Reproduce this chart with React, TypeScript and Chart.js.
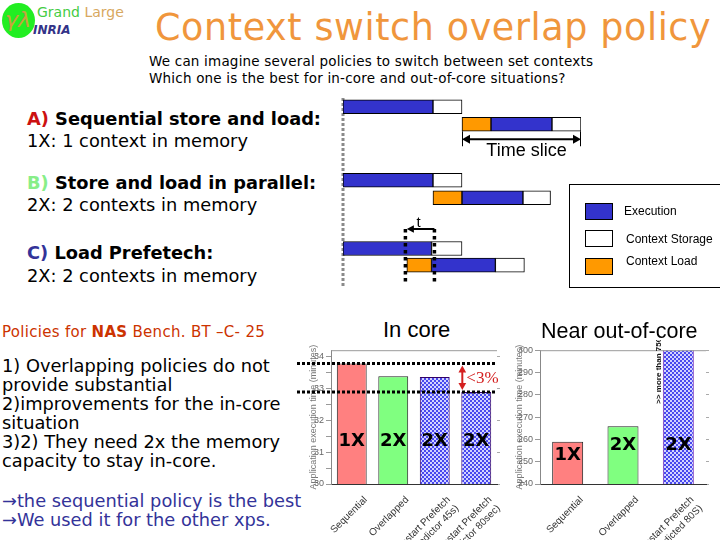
import React, { useEffect, useRef } from 'react';
import { Chart, registerables } from 'chart.js';

Chart.register(...registerables);
Chart.defaults.font.family = '"Liberation Sans", Arial, sans-serif';

// ---------------- Policy timeline diagram ----------------
const rowNames = ['A1', 'A2', 'B1', 'B2', 'C1', 'C2'];
const rowPositions = [0, 1, 4.2, 5.2, 8.1, 9.05];
const executionSpans: number[][] = [[0, 6.2], [10.2, 14.4], [0, 6.2], [8.2, 12.4], [0, 6.1], [6.1, 10.5]];
const storageSpans: number[][] = [[6.2, 8.2], [14.4, 16.4], [6.2, 8.2], [12.4, 14.3], [6.1, 8.2], [10.5, 12.5]];
const loadSpans: (number[] | null)[] = [null, [8.2, 10.2], null, [6.2, 8.2], null, [4.4, 6.1]];
const timeSlice = [8.2, 16.4];
const overlapArrow = [4.4, 6.3];
const overlapWindow = [4.3, 6.3];
const legendLabels = ['Execution', 'Context Storage', 'Context Load'];

// ---------------- In core ----------------
const inCoreLabels = [['Sequential'], ['Overlapped'], ['Restart Prefetch', '(predictor 45s)'], ['Restart Prefetch', '(predictor 80sec)']];
const inCoreValues = [33.78, 33.38, 33.36, 32.89];
const inCoreMemory = ['1X', '2X', '2X', '2X'];
const inCoreMemoryAt = [31.35, 31.35, 31.35, 31.35];
const inCoreRange = [30, 34.2];

// ---------------- Near out-of-core ----------------
const outCoreLabels = [['Sequential'], ['Overlapped'], ['Restart Prefetch', '(predicted 80S)']];
const outCoreValues = [258.9, 265.9, 750];
const outCoreMemory = ['1X', '2X', '2X'];
const outCoreMemoryAt = [252.7, 257.5, 257.5];
const outCoreNoteAt = 276;
const outCoreRange = [240, 300];

const EXEC = '#3333cc';
const LOAD = '#ff9900';

function checker(): CanvasPattern {
  const c = document.createElement('canvas');
  c.width = 4; c.height = 4;
  const g = c.getContext('2d')!;
  g.fillStyle = '#d2d2ff'; g.fillRect(0, 0, 4, 4);
  g.fillStyle = '#4848ee'; g.fillRect(0, 0, 2, 2); g.fillRect(2, 2, 2, 2);
  return g.createPattern(c, 'repeat')!;
}

function arrowHead(ctx: CanvasRenderingContext2D, x: number, y: number, angle: number, size = 7) {
  ctx.save();
  ctx.translate(x, y);
  ctx.rotate(angle);
  ctx.beginPath();
  ctx.moveTo(0, 0);
  ctx.lineTo(-size, -size * 0.55);
  ctx.lineTo(-size, size * 0.55);
  ctx.closePath();
  ctx.fill();
  ctx.restore();
}

const timelinePlugin = {
  id: 'timelineExtras',
  beforeDatasetsDraw(chart: any) {
    const { ctx, scales: { x } } = chart;
    ctx.save();
    ctx.strokeStyle = '#8a8a8a';
    ctx.lineWidth = 3;
    ctx.setLineDash([3, 2]);
    const x0 = x.getPixelForValue(0);
    ctx.beginPath(); ctx.moveTo(x0, 0); ctx.lineTo(x0, chart.height); ctx.stroke();
    ctx.restore();
  },
  afterDatasetsDraw(chart: any) {
    const { ctx, scales: { x, y } } = chart;
    ctx.save();
    ctx.strokeStyle = '#000';
    ctx.fillStyle = '#000';
    // time slice
    const ya = y.getPixelForValue(rowPositions[1]) + 15;
    const xa = x.getPixelForValue(timeSlice[0]);
    const xb = x.getPixelForValue(timeSlice[1]);
    ctx.lineWidth = 2;
    ctx.beginPath(); ctx.moveTo(xa + 5, ya); ctx.lineTo(xb - 5, ya); ctx.stroke();
    arrowHead(ctx, xa, ya, Math.PI, 8);
    arrowHead(ctx, xb, ya, 0, 8);
    ctx.lineWidth = 1;
    ctx.beginPath();
    ctx.moveTo(xa + 0.5, ya - 8); ctx.lineTo(xa + 0.5, ya + 7);
    ctx.moveTo(xb - 0.5, ya - 8); ctx.lineTo(xb - 0.5, ya + 7);
    ctx.stroke();
    ctx.font = '18px "Liberation Sans"';
    ctx.textAlign = 'center';
    ctx.textBaseline = 'alphabetic';
    ctx.fillText('Time slice', (xa + xb) / 2 + 5, ya + 16.5);
    // overlap t
    const yt = y.getPixelForValue(rowPositions[4]) - 19.5;
    const xt0 = x.getPixelForValue(overlapArrow[0]);
    const xt1 = x.getPixelForValue(overlapArrow[1]);
    ctx.lineWidth = 2;
    ctx.beginPath(); ctx.moveTo(xt0 + 5, yt); ctx.lineTo(xt1, yt); ctx.stroke();
    arrowHead(ctx, xt0, yt, Math.PI, 7);
    ctx.font = '15px "Liberation Sans"';
    ctx.fillText('t', (xt0 + xt1) / 2 - 2, yt - 2);
    ctx.lineWidth = 3.5;
    ctx.setLineDash([3.5, 3.5]);
    ctx.beginPath();
    for (const v of overlapWindow) {
      const px = x.getPixelForValue(v);
      ctx.moveTo(px, yt); ctx.lineTo(px, chart.height - 3);
    }
    ctx.stroke();
    ctx.restore();
  },
};

function memoryLabels(chart: any, labels: string[], at: number[]) {
  const { ctx, scales: { y } } = chart;
  const bars = chart.getDatasetMeta(0).data as any[];
  ctx.save();
  ctx.fillStyle = '#000';
  ctx.font = 'bold 18px "DejaVu Sans"';
  ctx.textAlign = 'center';
  ctx.textBaseline = 'middle';
  bars.forEach((b, i) => ctx.fillText(labels[i], b.x, y.getPixelForValue(at[i])));
  ctx.restore();
}

function topFrame(chart: any) {
  const { ctx, chartArea: ca } = chart;
  ctx.save();
  ctx.strokeStyle = '#9a9a9a';
  ctx.lineWidth = 1;
  ctx.beginPath(); ctx.moveTo(ca.left, ca.top + 0.5); ctx.lineTo(ca.right, ca.top + 0.5); ctx.stroke();
  ctx.restore();
}

const inCorePlugin = {
  id: 'inCoreExtras',
  afterDatasetsDraw(chart: any) {
    const { ctx, chartArea: ca, scales: { y } } = chart;
    topFrame(chart);
    memoryLabels(chart, inCoreMemory, inCoreMemoryAt);
    const bars = chart.getDatasetMeta(0).data as any[];
    const yTop = y.getPixelForValue(inCoreValues[0]);
    const yBot = y.getPixelForValue(inCoreValues[3]);
    ctx.save();
    ctx.strokeStyle = '#000';
    ctx.lineWidth = 3;
    ctx.setLineDash([3, 2]);
    ctx.beginPath();
    ctx.moveTo(7, yTop); ctx.lineTo(ca.right, yTop);
    ctx.moveTo(7, yBot); ctx.lineTo(ca.right, yBot);
    ctx.stroke();
    ctx.setLineDash([]);
    const ax = bars[3].x - bars[3].width / 2 + 1;
    ctx.strokeStyle = '#d42020';
    ctx.fillStyle = '#d42020';
    ctx.lineWidth = 2;
    ctx.beginPath(); ctx.moveTo(ax, yTop + 7); ctx.lineTo(ax, yBot - 7); ctx.stroke();
    arrowHead(ctx, ax, yTop + 2, -Math.PI / 2, 7);
    arrowHead(ctx, ax, yBot - 2, Math.PI / 2, 7);
    ctx.font = '17px "Liberation Serif"';
    ctx.textAlign = 'left';
    ctx.textBaseline = 'middle';
    ctx.fillText('<3%', ax + 4, (yTop + yBot) / 2 + 1);
    ctx.restore();
  },
};

const outCorePlugin = {
  id: 'outCoreExtras',
  afterDatasetsDraw(chart: any) {
    const { ctx, scales: { y } } = chart;
    topFrame(chart);
    memoryLabels(chart, outCoreMemory, outCoreMemoryAt);
    const b = (chart.getDatasetMeta(0).data as any[])[2];
    ctx.save();
    ctx.translate(b.x - b.width / 2 - 2, y.getPixelForValue(outCoreNoteAt));
    ctx.rotate(-Math.PI / 2);
    ctx.fillStyle = '#111';
    ctx.font = 'bold 8px "Liberation Sans"';
    ctx.textAlign = 'left';
    ctx.textBaseline = 'alphabetic';
    ctx.fillText('>> more than 750', 0, 0);
    ctx.restore();
  },
};

function barChartConfig(opts: {
  labels: any[]; values: number[]; range: number[]; step: number; labelStep: number;
  colors: any[]; borders: string[]; barPct: number; yWidth: number; titlePad: number; plugin: any;
}) {
  const tickFont = { size: 9, family: '"Liberation Sans"' };
  return {
    type: 'bar',
    data: {
      labels: opts.labels,
      datasets: [{
        data: opts.values,
        backgroundColor: opts.colors,
        borderColor: opts.borders,
        borderWidth: 1,
        borderSkipped: false,
        barPercentage: opts.barPct,
        categoryPercentage: 1,
      }],
    },
    options: {
      animation: false,
      responsive: false,
      maintainAspectRatio: false,
      layout: { padding: { top: 7, left: 0, right: 0, bottom: 0 } },
      plugins: { legend: { display: false }, tooltip: { enabled: false } },
      scales: {
        x: {
          grid: { display: false },
          border: { color: '#333' },
          ticks: { autoSkip: false, minRotation: 45, maxRotation: 45, font: { size: 10, family: '"Liberation Sans"' }, color: '#333', labelOffset: 14, padding: 2 },
          afterFit: (s: any) => { s.height = 56; },
        },
        y: {
          min: opts.range[0], max: opts.range[1],
          ticks: {
            stepSize: opts.step, includeBounds: false, font: tickFont, color: '#666', padding: 2,
            callback: (v: any) => (Math.abs(v / opts.labelStep - Math.round(v / opts.labelStep)) < 1e-6 ? String(v) : ''),
          },
          grid: { drawOnChartArea: false, tickLength: 5, color: '#999' },
          border: { color: '#888' },
          title: {
            display: true, text: 'Application execution time (minutes)', color: '#777',
            font: { size: 9, family: '"Liberation Sans"' }, padding: { top: opts.titlePad, bottom: 0 },
          },
          afterFit: (s: any) => { s.width = opts.yWidth; },
        },
        y2: {
          position: 'right',
          min: opts.range[0], max: opts.range[1],
          ticks: { stepSize: opts.step, includeBounds: false, callback: () => '' },
          grid: { drawOnChartArea: false, tickLength: 3, color: '#aaa' },
          border: { display: false },
          afterFit: (s: any) => { s.width = 8; },
        },
      },
    },
    plugins: [opts.plugin],
  } as any;
}

function ChartCanvas({ left, top, width, height, make }: { left: number; top: number; width: number; height: number; make: () => any }) {
  const ref = useRef<HTMLCanvasElement>(null);
  useEffect(() => {
    const chart = new Chart(ref.current!, make());
    return () => chart.destroy();
  }, []);
  return <canvas ref={ref} width={width} height={height} style={{ position: 'absolute', left, top, width, height }} />;
}

const FONTS: Record<string, { fam: string; asc: number; desc: number }> = {
  dv: { fam: '"DejaVu Sans"', asc: 0.928, desc: 0.236 },
  ls: { fam: '"Liberation Sans"', asc: 0.905, desc: 0.212 },
};

function T({ x, b, s, f = 'dv', color = '#000', bold, italic, ls, children }: any) {
  const F = FONTS[f];
  return (
    <div style={{
      position: 'absolute', left: x, top: b - F.asc * s, fontFamily: F.fam, fontSize: s,
      lineHeight: `${F.asc + F.desc}`, color, fontWeight: bold ? 'bold' : 'normal',
      fontStyle: italic ? 'italic' : 'normal', whiteSpace: 'nowrap', letterSpacing: ls,
    }}>{children}</div>
  );
}

function timelineConfig() {
  const ds = (label: string, spans: (number[] | null)[], color: string) => ({
    label,
    data: spans.map((s, i) => (s ? { x: s, y: rowPositions[i], row: rowNames[i] } : null)).filter(Boolean),
    backgroundColor: color,
    borderColor: '#000',
    borderWidth: 1,
    borderSkipped: false,
    barThickness: 14,
    grouped: false,
  });
  return {
    type: 'bar',
    data: {
      datasets: [
        ds(legendLabels[0], executionSpans, EXEC),
        ds(legendLabels[1], storageSpans, '#ffffff'),
        ds(legendLabels[2], loadSpans, LOAD),
      ],
    },
    options: {
      indexAxis: 'y',
      animation: false,
      responsive: false,
      maintainAspectRatio: false,
      layout: { padding: { left: 7, right: 9, top: 0, bottom: 0 } },
      plugins: { legend: { display: false }, tooltip: { enabled: false } },
      scales: {
        x: { type: 'linear', min: 0, max: 16.4, display: false, offset: false },
        y: { type: 'linear', min: -0.5, max: 10.3, reverse: true, display: false, offset: false },
      },
    },
    plugins: [timelinePlugin],
  } as any;
}

export default function App() {
  const legendColors = [EXEC, '#ffffff', LOAD];
  return (
    <div style={{ position: 'absolute', left: 0, top: 0, width: 720, height: 540, overflow: 'hidden', background: '#fff' }}>
      {/* logo */}
      <div style={{ position: 'absolute', left: 2, top: 3, width: 33, height: 35, borderRadius: '50%', background: '#22ee22' }} />
      <T x={5} b={27} s={22} color="#c8a040" italic>γλ</T>
      <T x={37} b={17} s={14}><span style={{ color: '#44cc44' }}>Grand </span><span style={{ color: '#d8a860' }}>Large</span></T>
      <T x={33} b={35} s={12} color="#333388" bold italic>INRIA</T>

      <T x={155} b={41} s={36.5} color="#f0963c" ls="0.6px">Context switch overlap policy</T>
      <T x={149} b={67} s={13.5} ls="0.2px">We can imagine several policies to switch between set contexts</T>
      <T x={149} b={84} s={13.5} ls="0.2px">Which one is the best for in-core and out-of-core situations?</T>

      <T x={27} b={126} s={17.8} bold><span style={{ color: '#cc1111' }}>A)</span> Sequential store and load:</T>
      <T x={27} b={148} s={17.8}>1X: 1 context in memory</T>
      <T x={27} b={190} s={17.8} bold><span style={{ color: '#88ee88' }}>B)</span> Store and load in parallel:</T>
      <T x={27} b={212} s={17.8}>2X: 2 contexts in memory</T>
      <T x={27} b={260} s={17.8} bold><span style={{ color: '#333399' }}>C)</span> Load Prefetech:</T>
      <T x={27} b={283} s={17.8}>2X: 2 contexts in memory</T>

      <T x={2} b={338} s={15} color="#cc3300" ls="0.3px">Policies for <b>NAS</b> Bench. BT –C- 25</T>
      <T x={2} b={373} s={17.8}>1) Overlapping policies do not</T>
      <T x={2} b={392} s={17.8}>provide substantial</T>
      <T x={2} b={411} s={17.8}>2)improvements for the in-core</T>
      <T x={2} b={430} s={17.8}>situation</T>
      <T x={2} b={449} s={17.8}>3)2) They need 2x the memory</T>
      <T x={2} b={468} s={17.8}>capacity to stay in-core.</T>
      <T x={2} b={508} s={17.8} color="#333399">→the sequential policy is the best</T>
      <T x={2} b={527} s={17.8} color="#333399">→We used it for the other xps.</T>

      {/* timeline diagram */}
      <ChartCanvas left={336} top={98} width={254} height={189} make={timelineConfig} />

      {/* legend */}
      <div style={{ position: 'absolute', left: 569, top: 184, width: 170, height: 104, border: '1px solid #000', boxSizing: 'border-box' }} />
      {legendLabels.map((l, i) => (
        <React.Fragment key={l}>
          <div style={{ position: 'absolute', left: 585, top: [203, 230, 258][i], width: 28, height: 17, background: legendColors[i], border: '1px solid #000', boxSizing: 'border-box' }} />
          <T x={i === 0 ? 624 : 626} b={[216, 244, 266][i]} s={12} f="ls">{l}</T>
        </React.Fragment>
      ))}

      {/* bar charts */}
      <T x={383} b={338} s={22} f="ls">In core</T>
      <T x={541} b={338} s={21.5} f="ls">Near out-of-core</T>
      <ChartCanvas left={290} top={340} width={215} height={200} make={() => {
        const p = checker();
        return barChartConfig({
          labels: inCoreLabels, values: inCoreValues, range: inCoreRange, step: 0.5, labelStep: 1,
          colors: ['#ff8080', '#80ff80', p, p], borders: ['#222', '#222', '#330066', '#330066'],
          barPct: 0.72, yWidth: 41, titlePad: 18.6, plugin: inCorePlugin,
        });
      }} />
      <ChartCanvas left={500} top={340} width={214} height={200} make={() => {
        const p = checker();
        return barChartConfig({
          labels: outCoreLabels, values: outCoreValues, range: outCoreRange, step: 5, labelStep: 10,
          colors: ['#ff8080', '#80ff80', p], borders: ['#222', '#222', '#7733bb'],
          barPct: 0.56, yWidth: 40, titlePad: 14.6, plugin: outCorePlugin,
        });
      }} />
    </div>
  );
}
